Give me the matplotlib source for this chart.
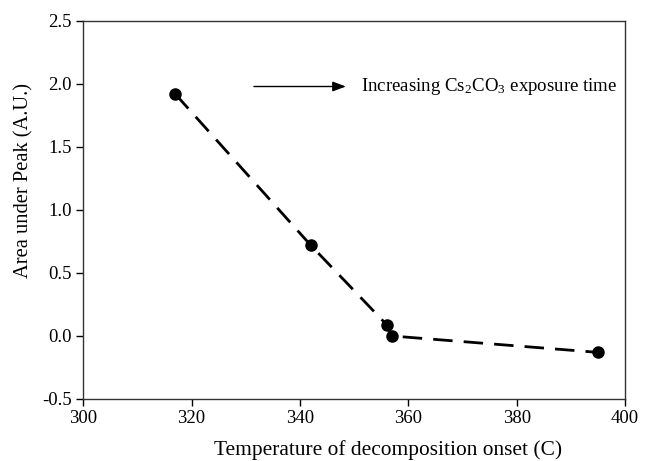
import matplotlib.pyplot as plt

# Площадь пика в зависимости от температуры начала разложения
temp = [317, 342, 356, 357, 395]
area = [1.92, 0.72, 0.09, 0.0, -0.13]

x_ticks = [300, 320, 340, 360, 380, 400]
y_ticks = [-0.5, 0.0, 0.5, 1.0, 1.5, 2.0, 2.5]

plt.rcParams['font.family'] = 'Liberation Serif'
plt.rcParams['mathtext.default'] = 'regular'

fig = plt.figure(figsize=(6.45, 4.61), dpi=100)
ax = fig.add_axes([0.129, 0.1345, 0.84, 0.82])

ax.plot(temp, area, color='black', linestyle=(0, (7, 4)), linewidth=2,
        marker='o', markersize=8, markerfacecolor='black')

ax.set_xlim(300, 400)
ax.set_ylim(-0.5, 2.5)
ax.set_xticks(x_ticks)
ax.set_yticks(y_ticks)
ax.set_yticklabels(['{:.1f}'.format(v) for v in y_ticks])
ax.tick_params(direction='out', length=5, width=1, labelsize=13.5, pad=3)

for s in ax.spines.values():
    s.set_color('#333333')
    s.set_linewidth(1)

ax.set_xlabel('Temperature of decomposition onset (C)', fontsize=15.4)
ax.xaxis.set_label_coords(0.563, -0.108)
ax.set_ylabel('Area under Peak (A.U.)', fontsize=14.8)
ax.yaxis.set_label_coords(-0.092, 0.579)

# Стрелка и подпись
ax.annotate('', xy=(349, 1.98), xytext=(331, 1.98),
            arrowprops=dict(arrowstyle='-|>,head_width=0.3,head_length=0.8',
                            color='black', lw=1))
ax.text(351.3, 1.98, 'Increasing Cs$_2$CO$_3$ exposure time', fontsize=13.6,
        va='center', ha='left')

plt.savefig('out.png', dpi=100)
